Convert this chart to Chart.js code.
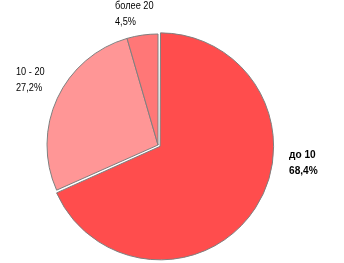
<!DOCTYPE html>
<html><head><meta charset="utf-8">
<script src="https://cdn.jsdelivr.net/npm/chart.js@4/dist/chart.umd.min.js"></script>
<style>html,body{margin:0;padding:0;background:#fff}#w{width:344px;height:263px}</style>
</head><body><div id="w"><canvas id="c" width="344" height="263"></canvas></div>
<script>
const categories = ['до 10', '10 - 20', 'более 20'];
const values = [68.4, 27.2, 4.5];
const valueLabels = ['68,4%', '27,2%', '4,5%'];
const colors = ['#FF4D4D', '#FF9696', '#FF7777'];

// label placement (text, not marks)
const labelPos = [
  {x: 289, y: 155, bold: true},
  {x: 16, y: 72, bold: false},
  {x: 115, y: 6, bold: false}
];

const labelPlugin = {
  id: 'lbl',
  afterDraw(chart) {
    const ctx = chart.ctx;
    categories.forEach((c, i) => {
      const p = labelPos[i];
      ctx.save();
      ctx.fillStyle = '#000';
      ctx.textBaseline = 'middle';
      ctx.textAlign = 'left';
      ctx.font = (p.bold ? 'bold ' : '') + '11.5px "Liberation Sans", Arial, sans-serif';
      ctx.translate(p.x, p.y);
      ctx.scale(p.bold ? 0.88 : 0.8, 1);
      ctx.fillText(c, 0, 0);
      ctx.fillText(valueLabels[i], 0, 16);
      ctx.restore();
    });
  }
};

new Chart(document.getElementById('c'), {
  type: 'pie',
  data: {
    labels: categories,
    datasets: [{
      data: values,
      backgroundColor: colors,
      borderColor: '#7F7F7F',
      borderWidth: 1,
      offset: [10, 0, 0],
      hoverOffset: 0
    }]
  },
  options: {
    responsive: false,
    animation: false,
    events: [],
    radius: 111,
    layout: {padding: {left: 0, right: 28, top: 27, bottom: 0}},
    plugins: {legend: {display: false}, tooltip: {enabled: false}}
  },
  plugins: [labelPlugin]
});
</script></body></html>
